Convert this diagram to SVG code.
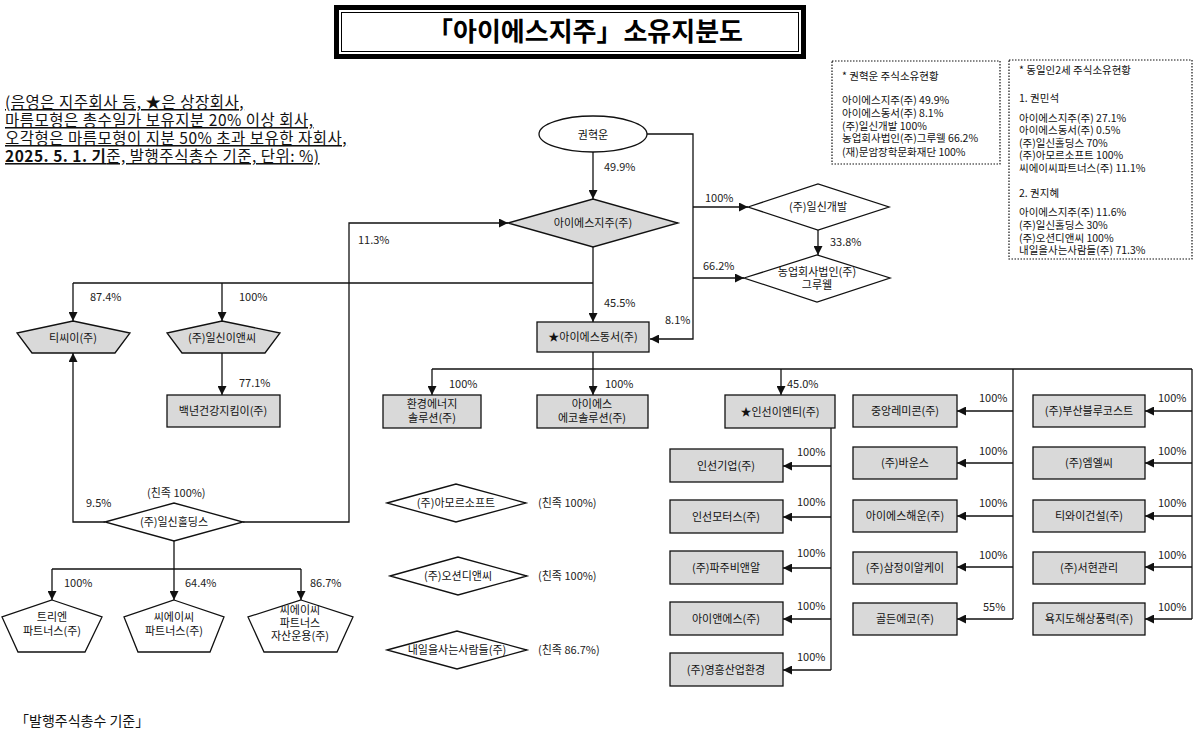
<svg xmlns="http://www.w3.org/2000/svg" width="1200" height="737" viewBox="0 0 1200 737">
<defs>
<style>
.g{fill:#d9d9d9;stroke:#111;stroke-width:1.3}
.w{fill:#fff;stroke:#111;stroke-width:1.3}
.t{font-family:"Noto Sans CJK KR","Noto Sans",sans-serif;font-size:11px;fill:#111;text-anchor:middle}
.p{font-family:"Noto Sans CJK KR","Noto Sans",sans-serif;font-size:11px;fill:#222}
.s{font-family:"Noto Sans CJK KR","Noto Sans",sans-serif;font-size:10.5px;fill:#111}
.l{font-family:"Noto Sans CJK KR","Noto Sans",sans-serif;font-size:15.5px;letter-spacing:0.5px;fill:#111;text-decoration:underline}
.c{fill:none;stroke:#111;stroke-width:1.3}
.d{fill:#fff;stroke:#111;stroke-width:1.2;stroke-dasharray:1.5 1.5}
</style>
<marker id="a" viewBox="0 0 10 10" refX="10" refY="5" markerWidth="9" markerHeight="9" markerUnits="userSpaceOnUse" orient="auto"><path d="M0,0 L10,5 L0,10 z" fill="#111"/></marker>
</defs>
<rect width="1200" height="737" fill="#fff"/>

<g id="title">
<rect x="334" y="5" width="472" height="54" fill="#000"/>
<rect x="339" y="10" width="462" height="44" fill="#fff"/>
<rect x="341.5" y="12.5" width="457" height="39" fill="none" stroke="#000" stroke-width="1"/>
<text x="585" y="41" font-family="'Noto Sans CJK KR',sans-serif" font-size="26" font-weight="bold" text-anchor="middle" fill="#000">「아이에스지주」<tspan dx="-5"> 소유지분도</tspan></text>
</g>

<g id="legend">
<text class="l" x="5" y="108">(음영은 지주회사 등, ★은 상장회사,</text>
<text class="l" x="5" y="126">마름모형은 총수일가 보유지분 20% 이상 회사,</text>
<text class="l" x="5" y="144">오각형은 마름모형이 지분 50% 초과 보유한 자회사,</text>
<text class="l" x="5" y="162"><tspan font-weight="bold">2025. 5. 1. 기</tspan>준, 발행주식총수 기준, 단위: %)</text>
</g>

<g id="info1">
<rect class="d" x="832" y="61" width="168" height="103"/>
<text class="s" x="842" y="80">* 권혁운 주식소유현황</text>
<text class="s" x="842" y="104">아이에스지주(주) 49.9%</text>
<text class="s" x="842" y="117">아이에스동서(주) 8.1%</text>
<text class="s" x="842" y="130">(주)일신개발 100%</text>
<text class="s" x="842" y="142">농업회사법인(주)그루웰 66.2%</text>
<text class="s" x="842" y="156">(재)문암장학문화재단 100%</text>
</g>
<g id="info2">
<rect class="d" x="1009" y="60" width="183" height="199"/>
<text class="s" x="1019" y="74">* 동일인2세 주식소유현황</text>
<text class="s" x="1019" y="102">1. 권민석</text>
<text class="s" x="1019" y="122">아이에스지주(주) 27.1%</text>
<text class="s" x="1019" y="134">아이에스동서(주) 0.5%</text>
<text class="s" x="1019" y="147">(주)일신홀딩스 70%</text>
<text class="s" x="1019" y="159">(주)아모르소프트 100%</text>
<text class="s" x="1019" y="172">씨에이씨파트너스(주) 11.1%</text>
<text class="s" x="1019" y="197">2. 권지혜</text>
<text class="s" x="1019" y="216">아이에스지주(주) 11.6%</text>
<text class="s" x="1019" y="229">(주)일신홀딩스 30%</text>
<text class="s" x="1019" y="242">(주)오션디앤씨 100%</text>
<text class="s" x="1019" y="254">내일을사는사람들(주) 71.3%</text>
</g>

<g id="connectors">
<path class="c" d="M593,152 V199" marker-end="url(#a)"/>
<path class="c" d="M647,134 H693 V339 H650" marker-end="url(#a)"/>
<path class="c" d="M693,207 H748" marker-end="url(#a)"/>
<path class="c" d="M693,278 H744" marker-end="url(#a)"/>
<path class="c" d="M818,230 V255" marker-end="url(#a)"/>
<path class="c" d="M593,247 V322" marker-end="url(#a)"/>
<path class="c" d="M73,283 H593"/>
<path class="c" d="M73,283 V321" marker-end="url(#a)"/>
<path class="c" d="M222,283 V321" marker-end="url(#a)"/>
<path class="c" d="M222,353 V395" marker-end="url(#a)"/>
<path class="c" d="M105,522 H73 V353" marker-end="url(#a)"/>
<path class="c" d="M243,522 H349 V223 H508" marker-end="url(#a)"/>
<path class="c" d="M174,541 V600" marker-end="url(#a)"/>
<path class="c" d="M52,569 H301"/>
<path class="c" d="M52,569 V600" marker-end="url(#a)"/>
<path class="c" d="M301,569 V600" marker-end="url(#a)"/>
<path class="c" d="M593,352 V369"/>
<path class="c" d="M432,369 H1192"/>
<path class="c" d="M432,369 V395" marker-end="url(#a)"/>
<path class="c" d="M593,369 V395" marker-end="url(#a)"/>
<path class="c" d="M781,369 V395" marker-end="url(#a)"/>
<path class="c" d="M831,428 V670"/>
<path class="c" d="M831,466 H783" marker-end="url(#a)"/>
<path class="c" d="M831,517 H783" marker-end="url(#a)"/>
<path class="c" d="M831,568 H783" marker-end="url(#a)"/>
<path class="c" d="M831,619 H783" marker-end="url(#a)"/>
<path class="c" d="M831,670 H783" marker-end="url(#a)"/>
<path class="c" d="M1013,369 V619"/>
<path class="c" d="M1013,411 H957" marker-end="url(#a)"/>
<path class="c" d="M1013,463 H957" marker-end="url(#a)"/>
<path class="c" d="M1013,516 H957" marker-end="url(#a)"/>
<path class="c" d="M1013,567 H957" marker-end="url(#a)"/>
<path class="c" d="M1013,619 H957" marker-end="url(#a)"/>
<path class="c" d="M1192,369 V619"/>
<path class="c" d="M1192,411 H1145" marker-end="url(#a)"/>
<path class="c" d="M1192,463 H1145" marker-end="url(#a)"/>
<path class="c" d="M1192,516 H1145" marker-end="url(#a)"/>
<path class="c" d="M1192,567 H1145" marker-end="url(#a)"/>
<path class="c" d="M1192,619 H1145" marker-end="url(#a)"/>
<text class="p" x="604" y="171">49.9%</text>
<text class="p" x="358" y="244">11.3%</text>
<text class="p" x="705" y="202">100%</text>
<text class="p" x="830" y="246">33.8%</text>
<text class="p" x="703" y="270">66.2%</text>
<text class="p" x="604" y="307">45.5%</text>
<text class="p" x="665" y="324">8.1%</text>
<text class="p" x="90" y="301">87.4%</text>
<text class="p" x="239" y="301">100%</text>
<text class="p" x="239" y="387">77.1%</text>
<text class="p" x="147" y="497">(친족 100%)</text>
<text class="p" x="86" y="507">9.5%</text>
<text class="p" x="64" y="587">100%</text>
<text class="p" x="185" y="587">64.4%</text>
<text class="p" x="310" y="587">86.7%</text>
<text class="p" x="449" y="388">100%</text>
<text class="p" x="605" y="388">100%</text>
<text class="p" x="787" y="388">45.0%</text>
<text class="p" x="797" y="456">100%</text>
<text class="p" x="797" y="506">100%</text>
<text class="p" x="797" y="557">100%</text>
<text class="p" x="797" y="610">100%</text>
<text class="p" x="797" y="661">100%</text>
<text class="p" x="979" y="402">100%</text>
<text class="p" x="979" y="455">100%</text>
<text class="p" x="979" y="507">100%</text>
<text class="p" x="979" y="559">100%</text>
<text class="p" x="983" y="611">55%</text>
<text class="p" x="1158" y="402">100%</text>
<text class="p" x="1158" y="455">100%</text>
<text class="p" x="1158" y="507">100%</text>
<text class="p" x="1158" y="559">100%</text>
<text class="p" x="1158" y="611">100%</text>
<text class="p" x="538" y="507">(친족 100%)</text>
<text class="p" x="538" y="580">(친족 100%)</text>
<text class="p" x="538" y="654">(친족 86.7%)</text>
</g>

<g id="n-kwon"><ellipse class="w" cx="593" cy="134" rx="54" ry="18"/><text class="t" x="593" y="139" font-size="14">권혁운</text></g>
<g id="n-isholding"><path class="g" d="M508,223 L593,199 L678,223 L593,247 z"/><text class="t" x="593" y="227">아이에스지주(주)</text></g>
<g id="n-ilshindev"><path class="w" d="M748,207 L818,184 L889,207 L818,230 z"/><text class="t" x="818" y="211">(주)일신개발</text></g>
<g id="n-grewell"><path class="w" d="M744,278 L817,255 L890,278 L817,302 z"/><text class="t" x="817" y="276" font-size="10">농업회사법인(주)</text><text class="t" x="817" y="289" font-size="10">그루웰</text></g>
<g id="n-isdongseo"><rect class="g" x="537" y="322" width="112" height="30"/><text class="t" x="593" y="341">★아이에스동서(주)</text></g>
<g id="n-tce"><path class="g" d="M73,321 L130,333 L115,353 L32,353 L17,333 z"/><text class="t" x="73" y="342">티씨이(주)</text></g>
<g id="n-ilshinenc"><path class="g" d="M222,321 L280,333 L265,353 L182,353 L167,333 z"/><text class="t" x="222" y="342">(주)일신이앤씨</text></g>
<g id="n-baeknyeon"><rect class="g" x="167" y="395" width="113" height="32"/><text class="t" x="223" y="415">백년건강지킴이(주)</text></g>
<g id="n-ilshinholdings"><path class="w" d="M105,522 L174,503 L243,522 L174,541 z"/><text class="t" x="174" y="526">(주)일신홀딩스</text></g>
<g id="n-trien"><path class="w" d="M52,600 L102,617 L85,652 L18,652 L2,617 z"/><text class="t" x="52" y="621">트리엔</text><text class="t" x="52" y="635">파트너스(주)</text></g>
<g id="n-cacp"><path class="w" d="M174,600 L224,617 L210,652 L138,652 L124,617 z"/><text class="t" x="174" y="621">씨에이씨</text><text class="t" x="174" y="635">파트너스(주)</text></g>
<g id="n-cacam"><path class="w" d="M301,600 L353,617 L337,652 L264,652 L248,617 z"/><text class="t" x="300" y="614">씨에이씨</text><text class="t" x="300" y="627">파트너스</text><text class="t" x="300" y="640">자산운용(주)</text></g>
<g id="n-hwangyeong"><rect class="g" x="383" y="395" width="98" height="33"/><text class="t" x="432" y="408">환경에너지</text><text class="t" x="432" y="422">솔루션(주)</text></g>
<g id="n-eco"><rect class="g" x="537" y="395" width="111" height="33"/><text class="t" x="592" y="408">아이에스</text><text class="t" x="592" y="422">에코솔루션(주)</text></g>
<g id="n-insun"><rect class="g" x="725" y="395" width="110" height="33"/><text class="t" x="780" y="416">★인선이엔티(주)</text></g>
<g id="n-amor"><path class="w" d="M387,503 L456,484 L526,503 L456,522 z"/><text class="t" x="456" y="507">(주)아모르소프트</text></g>
<g id="n-ocean"><path class="w" d="M390,576 L458,557 L527,576 L458,595 z"/><text class="t" x="458" y="580">(주)오션디앤씨</text></g>
<g id="n-naeil"><path class="w" d="M387,650 L457,631 L527,650 L457,669 z"/><text class="t" x="457" y="654" font-size="10.5">내일을사는사람들(주)</text></g>
<g id="n-insungiup"><rect class="g" x="670" y="449" width="113" height="33"/><text class="t" x="726" y="470">인선기업(주)</text></g>
<g id="n-insunmotors"><rect class="g" x="670" y="500" width="113" height="33"/><text class="t" x="726" y="521">인선모터스(주)</text></g>
<g id="n-paju"><rect class="g" x="670" y="551" width="113" height="33"/><text class="t" x="726" y="572">(주)파주비앤알</text></g>
<g id="n-ins"><rect class="g" x="670" y="602" width="113" height="33"/><text class="t" x="726" y="623">아이앤에스(주)</text></g>
<g id="n-younghung"><rect class="g" x="670" y="653" width="113" height="33"/><text class="t" x="726" y="674">(주)영흥산업환경</text></g>
<g id="n-jungang"><rect class="g" x="853" y="395" width="104" height="32"/><text class="t" x="905" y="415">중앙레미콘(주)</text></g>
<g id="n-bounce"><rect class="g" x="853" y="447" width="104" height="32"/><text class="t" x="905" y="467">(주)바운스</text></g>
<g id="n-haeun"><rect class="g" x="853" y="500" width="104" height="32"/><text class="t" x="905" y="520">아이에스해운(주)</text></g>
<g id="n-samjung"><rect class="g" x="853" y="552" width="104" height="32"/><text class="t" x="905" y="572">(주)삼정이알케이</text></g>
<g id="n-golden"><rect class="g" x="853" y="603" width="104" height="32"/><text class="t" x="905" y="623">골든에코(주)</text></g>
<g id="n-busan"><rect class="g" x="1033" y="395" width="112" height="32"/><text class="t" x="1089" y="415">(주)부산블루코스트</text></g>
<g id="n-mlc"><rect class="g" x="1033" y="447" width="112" height="32"/><text class="t" x="1089" y="467">(주)엠엘씨</text></g>
<g id="n-ty"><rect class="g" x="1033" y="500" width="112" height="32"/><text class="t" x="1089" y="520">티와이건설(주)</text></g>
<g id="n-seohyun"><rect class="g" x="1033" y="552" width="112" height="32"/><text class="t" x="1089" y="572">(주)서현관리</text></g>
<g id="n-yokjido"><rect class="g" x="1033" y="603" width="112" height="32"/><text class="t" x="1089" y="623">욕지도해상풍력(주)</text></g>

<text x="15" y="726" font-family="'Noto Sans CJK KR',sans-serif" font-size="14" fill="#111">「발행주식총수 기준」</text>
</svg>
